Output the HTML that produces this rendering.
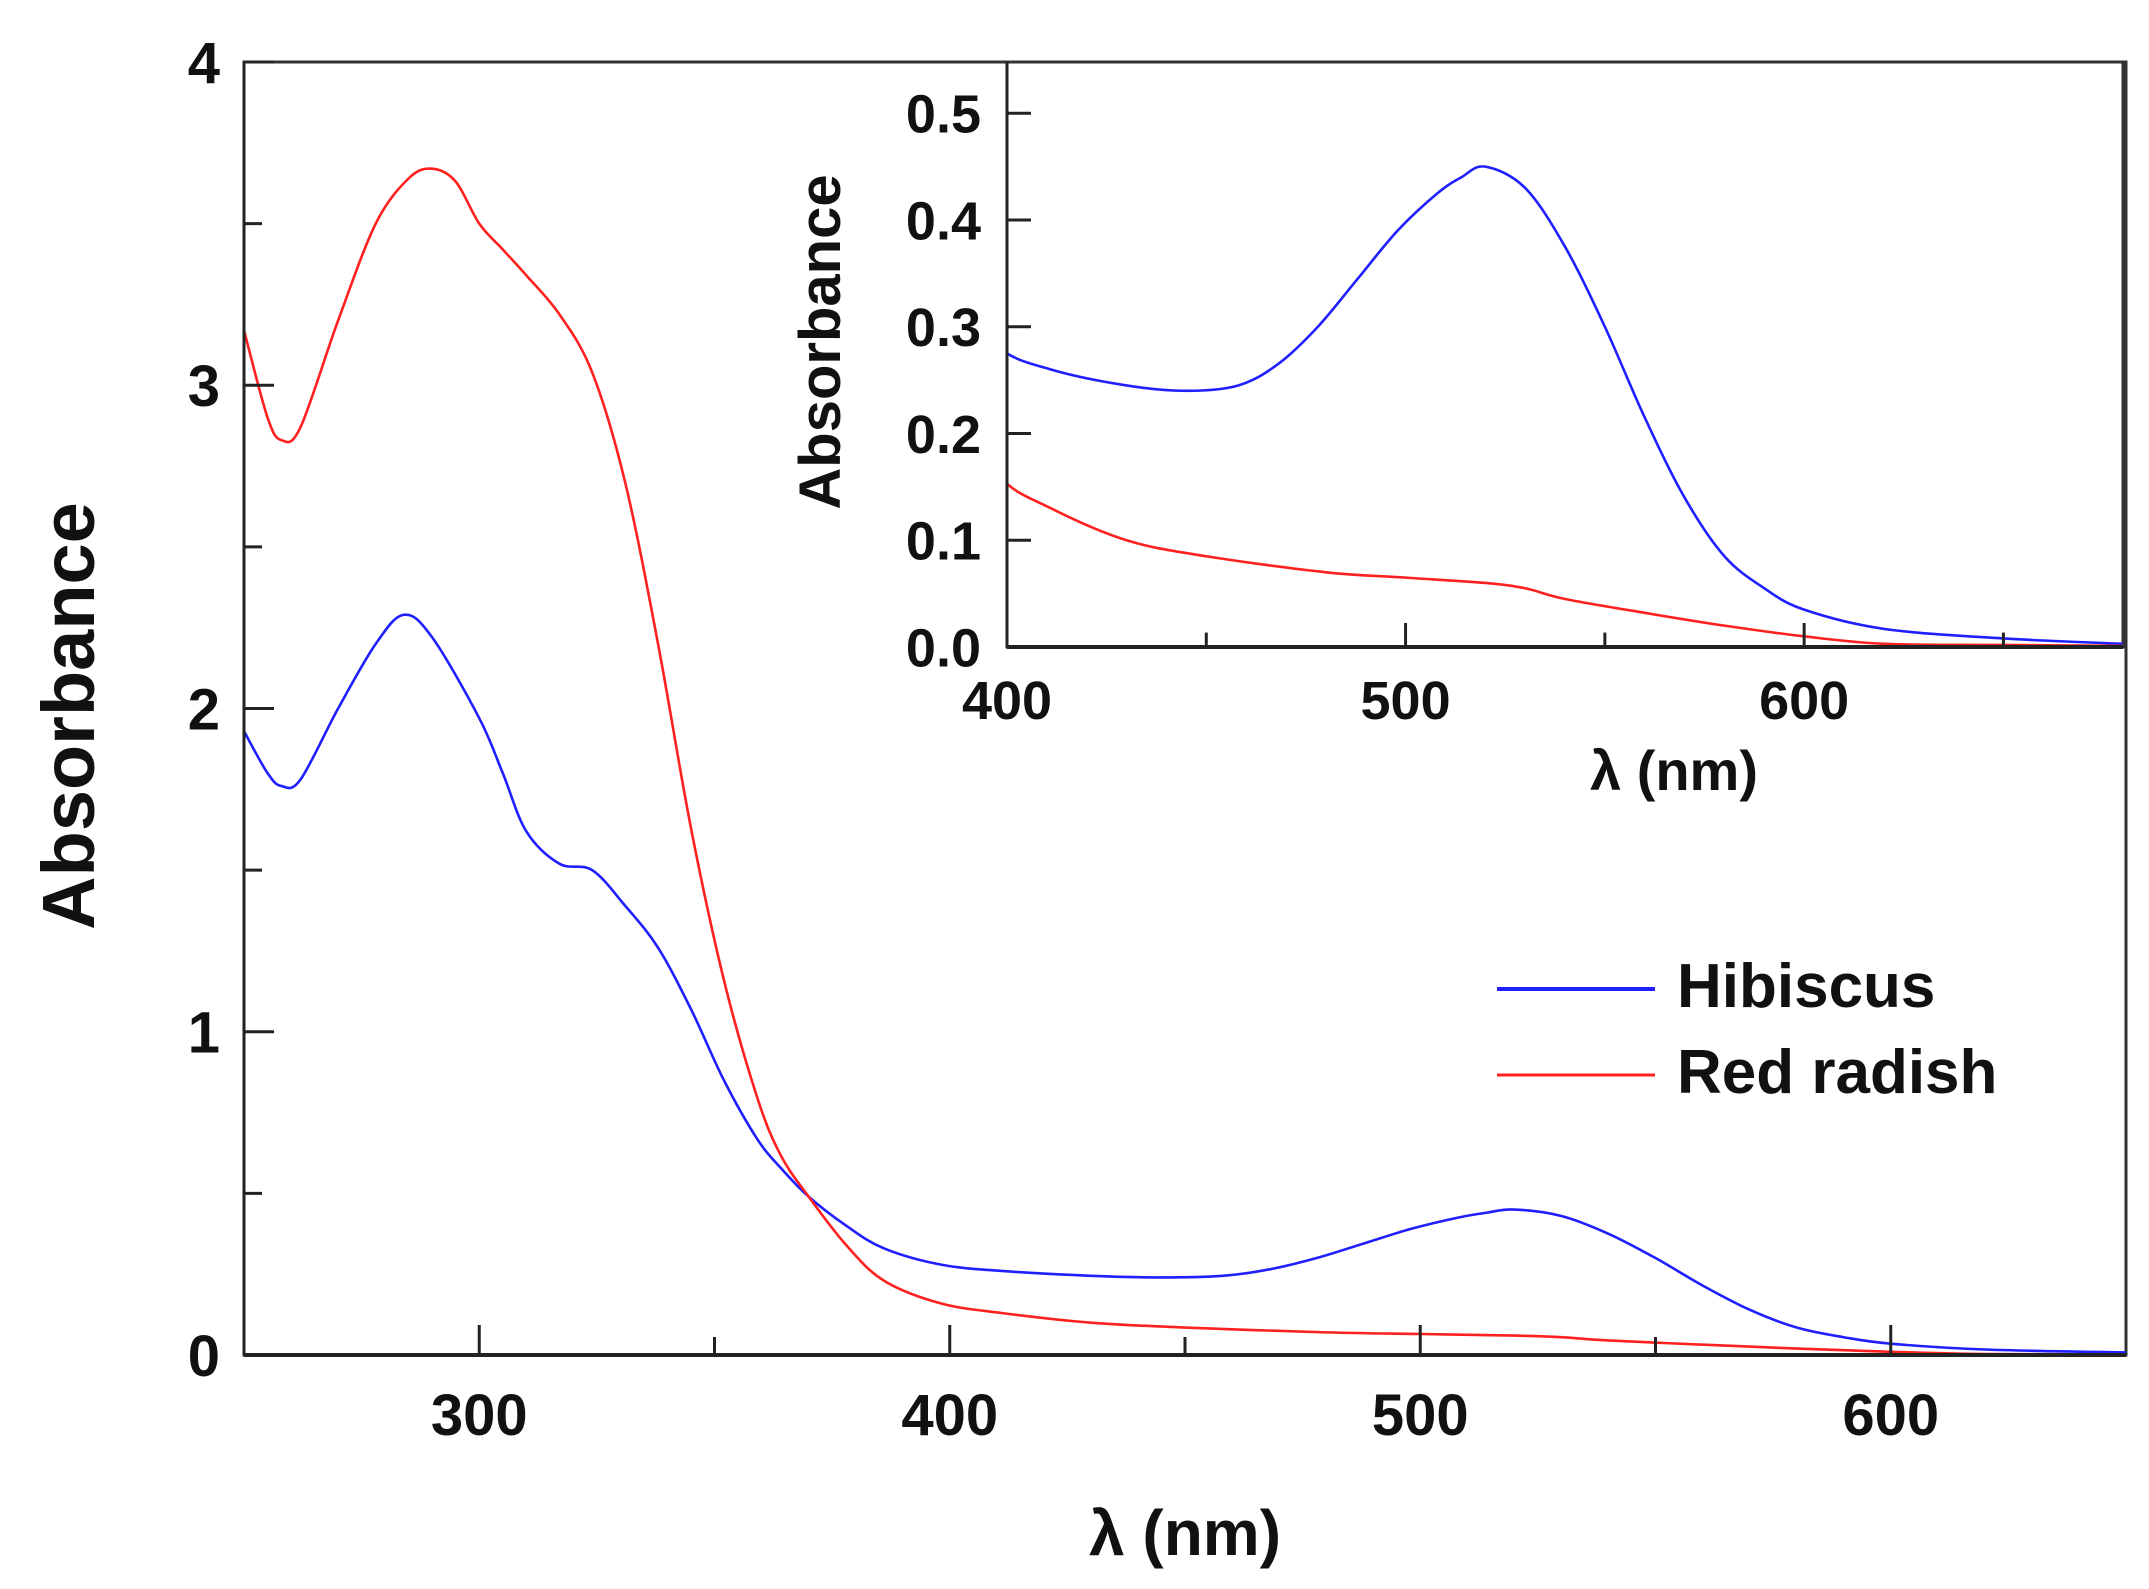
<!DOCTYPE html>
<html><head><meta charset="utf-8"><style>
html,body{margin:0;padding:0;background:#fff;}
svg{display:block;}
.t{font-family:"Liberation Sans Narrow","Liberation Sans",sans-serif;font-weight:bold;fill:#111;}
.ti{font-family:"Liberation Sans",sans-serif;font-weight:bold;fill:#111;}
</style></head><body>
<svg id="chart" width="2149" height="1589" viewBox="0 0 2149 1589" xmlns="http://www.w3.org/2000/svg">
<defs>
<clipPath id="cm"><rect x="244" y="62" width="1882" height="1294"/></clipPath>
<clipPath id="ci"><rect x="1007" y="62" width="1117" height="586"/></clipPath>
</defs>
<g id="main"></g>
<g id="inset"></g>
<g id="legend">
<line x1="1497" y1="989" x2="1655" y2="989" stroke="#1f1fff" stroke-width="4"/>
<text x="1677" y="1007" class="t" font-size="62">Hibiscus</text>
<line x1="1497" y1="1075" x2="1655" y2="1075" stroke="#ff2020" stroke-width="3"/>
<text x="1677" y="1093" class="t" font-size="62">Red radish</text>
</g>
</svg>
<script>
const wavelengthsHib = [250,255,258,262,270,278,284,290,300,305,310,317,324,331,338,345,352,359,364,370,378,386,398,411,430,445,458,468,478,488,498,508,514,520,530,540,550,560,570,580,590,600,620,650,680];
const hibiscus =       [1.93,1.80,1.76,1.78,2.0,2.2,2.29,2.22,1.97,1.80,1.62,1.52,1.50,1.39,1.26,1.07,0.85,0.67,0.58,0.49,0.40,0.33,0.28,0.26,0.245,0.24,0.245,0.265,0.30,0.345,0.39,0.425,0.44,0.45,0.43,0.375,0.30,0.215,0.14,0.085,0.055,0.035,0.017,0.008,0.003];
const wavelengthsRad = [250,255,258,262,270,278,285,290,295,300,305,310,317,324,331,338,345,352,359,364,370,378,386,398,411,430,450,480,500,520,530,540,560,580,600,620,650,680];
const redRadish =      [3.17,2.90,2.83,2.87,3.2,3.5,3.64,3.67,3.63,3.5,3.42,3.34,3.22,3.04,2.70,2.20,1.63,1.16,0.80,0.62,0.49,0.34,0.23,0.16,0.13,0.10,0.085,0.07,0.065,0.06,0.055,0.045,0.032,0.02,0.01,0.003,0.002,0.001];
const mainXTicks = [300,400,500,600];
const mainXMinor = [350,450,550];
const mainYTicks = [0,1,2,3,4];
const mainYMinor = [0.5,1.5,2.5,3.5];
const insetXTicks = [400,500,600];
const insetXMinor = [450,550,650];
const insetYTicks = ["0.0","0.1","0.2","0.3","0.4","0.5"];

const NS="http://www.w3.org/2000/svg";
function mk(p,tag,attrs){const e=document.createElementNS(NS,tag);for(const k in attrs)e.setAttribute(k,attrs[k]);p.appendChild(e);return e;}
function smooth(pts){let d=`M${pts[0][0]},${pts[0][1]}`;for(let i=0;i<pts.length-1;i++){const p0=pts[i-1]||pts[i],p1=pts[i],p2=pts[i+1],p3=pts[i+2]||p2;
const c1x=p1[0]+(p2[0]-p0[0])/6,c1y=p1[1]+(p2[1]-p0[1])/6,c2x=p2[0]-(p3[0]-p1[0])/6,c2y=p2[1]-(p3[1]-p1[1])/6;
d+=` C${c1x},${c1y} ${c2x},${c2y} ${p2[0]},${p2[1]}`;}return d;}

function panel(g,o){
  const X=v=>o.x0+(v-o.xmin)/(o.xmax-o.xmin)*(o.x1-o.x0);
  const Y=v=>o.y0-(v-o.ymin)/(o.ymax-o.ymin)*(o.y0-o.y1);
  mk(g,'rect',{x:o.x0,y:o.y1,width:o.x1-o.x0,height:o.y0-o.y1,fill:'#fff',stroke:'#333','stroke-width':3});
  const series=[[wavelengthsHib,hibiscus,'#1f1fff','hibiscus'],[wavelengthsRad,redRadish,'#ff2020','red-radish']];
  for(const [xs,ys,c,n] of series){
    const p=mk(g,'path',{d:smooth(xs.map((w,i)=>[X(w),Y(ys[i])])),fill:'none',stroke:c,'stroke-width':2.6,'clip-path':`url(#${o.clip})`});
    
    
  }
  mk(g,'line',{x1:o.x0,y1:o.y0,x2:o.x1,y2:o.y0,stroke:'#222','stroke-width':4});
  mk(g,'line',{x1:o.x0,y1:o.y0,x2:o.x0,y2:o.y1,stroke:'#222','stroke-width':3});
  for(const t of o.xt){const l=mk(g,'line',{x1:X(t),y1:o.y0,x2:X(t),y2:o.y0-o.tl,stroke:'#222','stroke-width':3});
    
    
    const tx=mk(g,'text',{x:X(t),y:o.y0+o.xly,'text-anchor':'middle',class:'t','font-size':o.fs});tx.textContent=t;
    
    }
  for(const t of o.xm){mk(g,'line',{x1:X(t),y1:o.y0,x2:X(t),y2:o.y0-o.tl*0.6,stroke:'#222','stroke-width':3});}
  for(const t of o.yt){const v=parseFloat(t);mk(g,'line',{x1:o.x0,y1:Y(v),x2:o.x0+o.tl,y2:Y(v),stroke:'#222','stroke-width':3});
    const tx=mk(g,'text',{x:o.x0-o.ylx,y:Y(v)+o.fs*0.36,'text-anchor':'end',class:'t','font-size':o.fs});tx.textContent=t;
    
    }
  for(const t of o.ym){mk(g,'line',{x1:o.x0,y1:Y(t),x2:o.x0+o.tl*0.6,y2:Y(t),stroke:'#222','stroke-width':3});}
  const xt=mk(g,'text',{x:o.xtx,y:o.xty,'text-anchor':'middle',class:'t','font-size':o.tfs});xt.textContent='λ (nm)';
  
  
  const yt=mk(g,'text',{x:0,y:0,'text-anchor':'middle',class:'ti','font-size':o.yfs,transform:`translate(${o.ytx},${o.yty}) rotate(-90)`});yt.textContent='Absorbance';
  
  
}
panel(document.getElementById('main'),{x0:244,x1:2126,y0:1355,y1:62,xmin:250,xmax:650,ymin:0,ymax:4,clip:'cm',
  xt:mainXTicks,xm:mainXMinor,yt:mainYTicks.map(String),ym:mainYMinor,tl:30,fs:58,xly:80,ylx:24,tfs:64,xtx:1185,xty:1555,yfs:74,ytx:94,yty:716});
panel(document.getElementById('inset'),{x0:1007,x1:2123,y0:647,y1:62,xmin:400,xmax:680,ymin:0,ymax:0.548,clip:'ci',
  xt:insetXTicks,xm:insetXMinor,yt:insetYTicks,ym:[],tl:24,fs:54,xly:72,ylx:26,tfs:56,xtx:1674,xty:790,yfs:58,ytx:840,yty:342});
</script>
</body></html>
